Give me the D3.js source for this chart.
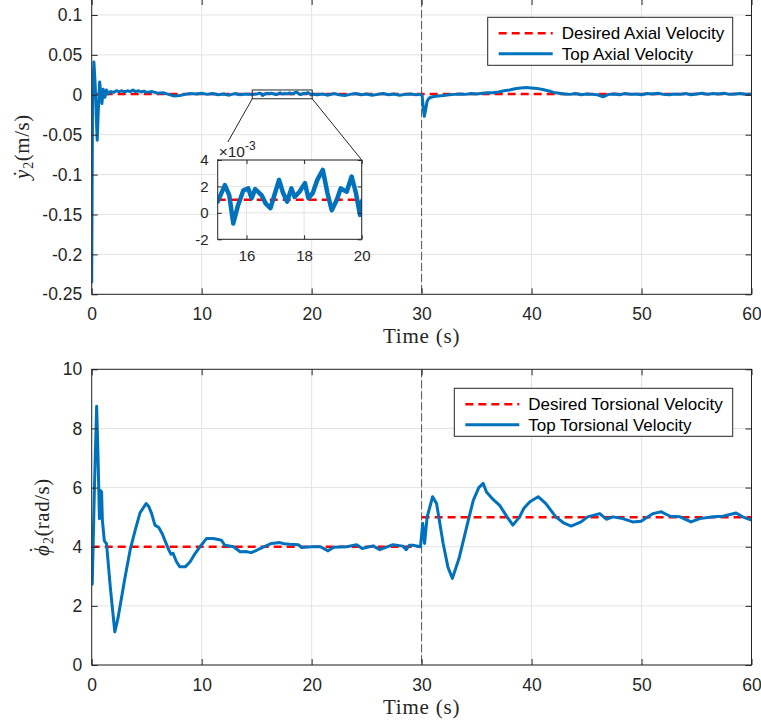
<!DOCTYPE html>
<html>
<head>
<meta charset="utf-8">
<script src="https://cdn.jsdelivr.net/npm/d3@7"></script>
<style>
  body { margin: 0; background: #fff; }
</style>
</head>
<body>
<div id="chart"></div>
<script>
// ---- data ----
var axialT = [0, 0.08, 0.2, 0.32, 0.42, 0.5, 0.6, 0.72, 0.82, 0.93, 1.05, 1.2, 1.35, 1.5, 1.7,
  2, 2.25, 2.5, 2.75, 3, 3.25, 3.5, 3.75, 4, 4.25, 4.5, 4.75, 5, 5.5, 6, 6.5, 7, 7.5, 8, 8.5, 9, 9.5,
  10, 10.5, 11, 11.5, 12, 12.5, 13, 13.5, 14, 14.5,
  15, 15.25, 15.4, 15.54, 15.71, 15.89, 16.06, 16.18, 16.3, 16.52, 16.67, 16.83, 17.13, 17.27, 17.41,
  17.56, 17.67, 17.84, 18.03, 18.15, 18.3, 18.46, 18.65, 18.81, 18.96, 19.13, 19.27, 19.48, 19.65,
  19.8, 19.94, 20,
  20.5, 21, 21.5, 22, 22.5, 23, 23.5, 24, 24.5, 25, 25.5, 26, 26.5, 27, 27.5, 28, 28.5, 29, 29.5, 29.9,
  30.05, 30.15, 30.25, 30.35, 30.5, 30.7, 31, 31.5, 32, 32.5, 33, 33.5, 34, 34.5, 35, 35.5, 36, 36.5,
  37, 37.5, 38, 38.5, 39, 39.5, 40, 40.5, 41, 41.5, 42, 42.5, 43, 43.5, 44, 44.5, 45, 45.5, 46, 46.5,
  47, 47.5, 48, 48.5, 49, 49.5, 50, 50.5, 51, 51.5, 52, 52.5, 53, 53.5, 54, 54.5, 55, 55.5, 56, 56.5,
  57, 57.5, 58, 58.5, 59, 59.5, 60];
var axialV = [-0.236, -0.002, 0.041, 0.012, -0.03, -0.057, -0.02, 0.016, 0.004, -0.011, 0.007, -0.003, 0.006, 0.001, 0.004,
  0.003, 0.005, 0.004, 0.005, 0.0035, 0.005, 0.004, 0.006, 0.004, 0.005, 0.0035, 0.0045, 0.003, 0.004, 0.002, 0.0025, 0.0005, -0.0015, -0.001, 0.0005, 0.0015, 0.001,
  0.002, 0.0005, 0.0015, 0, 0.001, -0.0005, 0.0015, 0, 0.001, 0.0005,
  0.00085, 0.0021, 0.00135, -0.0008, 0.0006, 0.0017, 0.00185, 0.0011, 0.0018, 0.00135, 0.0007, 0.00035, 0.0025, 0.0015, 0.00085,
  0.00185, 0.0012, 0.0016, 0.00225, 0.0011, 0.0015, 0.0025, 0.00325, 0.0015, 0.0002, 0.00095, 0.00185, 0.0016, 0.00275,
  0.0015, -0.00015, 0.00085,
  0, 0.001, -0.0005, 0.0015, 0, -0.001, 0.0005, 0.0015, 0, 0.001, -0.0005, 0.0005, 0.0015, 0, 0.001, -0.0005, 0.0005, 0.001, 0, 0.0005,
  -0.001, -0.016, -0.027, -0.02, -0.008, -0.004, -0.0025, -0.0015, -0.001, 0, 0.0005, 0.001, 0.0005, 0.0015, 0.001, 0.002, 0.0025, 0.0025,
  0.0035, 0.005, 0.006, 0.0075, 0.0085, 0.009, 0.0085, 0.008, 0.0065, 0.005, 0.003, 0.002, 0.001, 0.0005, 0.0015, 0, 0.001, 0.0005, 0, -0.0025,
  0.0005, 0.001, 0, 0.0015, 0.0005, 0.001, 0, 0.0015, 0.001, 0.002, 0.0005, 0, 0.001, 0.0005, 0.0015, 0, 0.001, 0.002, 0.0005, 0.0015,
  0.001, 0.002, 0.0005, 0.001, 0.0015, 0.0005, 0.001];
var axialDesired = 0.001;

var torsT = [0, 0.05, 0.25, 0.45, 0.58, 0.7, 0.8, 0.9, 0.97, 1.15, 1.35, 1.7, 2.1, 2.4, 3, 3.5, 3.95, 4.4, 4.95, 5.2,
  5.45, 5.75, 6.1, 6.4, 6.65, 7, 7.2, 7.4, 7.7, 8, 8.5, 8.95, 9.4, 9.85, 10.45, 11.05, 11.4, 11.8, 12.1, 12.9,
  13.5, 14, 14.5, 15, 15.45, 16.36, 17.1, 17.5, 18, 18.8, 19.1, 20, 20.8, 21.5, 22, 23.2, 24.1, 24.6, 25.6, 26.2,
  27.4, 28.3, 28.6, 28.9, 29.2, 29.9, 30.1, 30.27, 30.5, 31, 31.36, 31.96, 32.4, 32.8, 33.4, 34.1, 34.7, 35.2, 35.6, 35.9,
  36.5, 37.1, 37.7, 38.3, 38.9, 39.3, 39.85, 40.6, 41.3, 42.2, 42.9, 43.6, 44.5, 45.1, 46.2, 46.8, 47.4, 48.3, 49.2, 49.96,
  51.05, 51.8, 52.6, 53.5, 54.5, 55.3, 56.5, 57.4, 58.6, 59.2, 60];
var torsV = [2.7, 2.75, 6.0, 8.75, 7.0, 4.95, 5.9, 5.85, 4.9, 4.2, 4.1, 2.6, 1.12, 1.6, 2.9, 3.9, 4.55, 5.15, 5.46, 5.35,
  5.12, 4.73, 4.65, 4.45, 4.22, 3.9, 3.75, 3.78, 3.5, 3.32, 3.32, 3.49, 3.77, 4.0, 4.28, 4.28, 4.25, 4.22, 4.05, 4.0,
  3.83, 3.84, 3.8, 3.88, 3.96, 4.11, 4.14, 4.1, 4.08, 4.07, 3.97, 4.0, 4.0, 3.86, 3.98, 4.0, 4.07, 3.94, 4.03, 3.9,
  4.07, 4.02, 3.9, 4.05, 4.05, 4.0, 4.79, 4.11, 5.0, 5.69, 5.46, 4.11, 3.3, 2.93, 3.6, 4.67, 5.57, 6.0, 6.14, 5.85,
  5.6, 5.4, 5.05, 4.73, 5.0, 5.3, 5.52, 5.69, 5.46, 5.01, 4.81, 4.7, 4.84, 5.01, 5.12, 4.93, 5.01, 4.95, 4.84, 4.86,
  5.12, 5.18, 5.03, 5.01, 4.84, 4.95, 5.01, 5.03, 5.14, 5.01, 4.9];
var torsDesiredT = [[0, 30], [30, 60]];
var torsDesiredV = [4, 5];

var switchTime = 30;
var xTicks = [0, 10, 20, 30, 40, 50, 60];
var axialTicks = [-0.25, -0.2, -0.15, -0.1, -0.05, 0, 0.05, 0.1];
var axialTickLabels = ["-0.25", "-0.2", "-0.15", "-0.1", "-0.05", "0", "0.05", "0.1"];
var torsTicks = [0, 2, 4, 6, 8, 10];
var insetXTicks = [16, 18, 20];
var insetYTicks = [-0.002, 0, 0.002, 0.004];
var insetYTickLabels = ["-2", "0", "2", "4"];
var zoomT = [14.6, 20.05];
var zoomV = [-0.005, 0.006];

// ---- drawing ----
var W = 761, H = 725;
var axisColor = "#262626", gridColor = "#e3e3e3", blue = "#0072BD", red = "#FF0000";
var sans = "'Liberation Sans', Arial, Helvetica, sans-serif";
var serif = "'Liberation Serif', 'Times New Roman', serif";

var svg = d3.select("#chart").append("svg").attr("width", W).attr("height", H)
  .style("font-family", sans);

var left = 91.7, right = 751.5;
var x = d3.scaleLinear().domain([0, 60]).range([left, right]);

var axialData = axialT.map(function(t, i) { return [t, axialV[i]]; });
var torsData = torsT.map(function(t, i) { return [t, torsV[i]]; });

function drawPanel(p) {
  var y = d3.scaleLinear().domain(p.yDomain).range([p.bottom, p.top]);
  var g = svg.append("g");

  g.append("rect").attr("x", left).attr("y", p.top).attr("width", right - left).attr("height", p.bottom - p.top)
    .attr("fill", "#fff");

  // grid
  g.selectAll(".gx").data(xTicks).enter().append("line")
    .attr("x1", function(d) { return x(d); }).attr("x2", function(d) { return x(d); })
    .attr("y1", p.top).attr("y2", p.bottom)
    .attr("stroke", gridColor).attr("stroke-width", 1);
  g.selectAll(".gy").data(p.yTicks).enter().append("line")
    .attr("x1", left).attr("x2", right)
    .attr("y1", function(d) { return y(d); }).attr("y2", function(d) { return y(d); })
    .attr("stroke", gridColor).attr("stroke-width", 1);

  var clipId = "clip" + p.id;
  svg.append("clipPath").attr("id", clipId).append("rect")
    .attr("x", left).attr("y", p.top).attr("width", right - left).attr("height", p.bottom - p.top);
  var plot = g.append("g").attr("clip-path", "url(#" + clipId + ")");

  // switch marker
  plot.append("line")
    .attr("x1", x(switchTime)).attr("x2", x(switchTime)).attr("y1", p.top).attr("y2", p.bottom)
    .attr("stroke", "#555").attr("stroke-width", 1).attr("stroke-dasharray", "8,3");

  // desired (red dashed)
  p.desired.forEach(function(seg) {
    plot.append("path")
      .datum(seg)
      .attr("d", d3.line().x(function(d) { return x(d[0]); }).y(function(d) { return y(d[1]); }))
      .attr("fill", "none").attr("stroke", red).attr("stroke-width", 2.5).attr("stroke-dasharray", "8,5");
  });

  // measured (blue)
  plot.append("path")
    .datum(p.data)
    .attr("d", d3.line().x(function(d) { return x(d[0]); }).y(function(d) { return y(d[1]); }))
    .attr("fill", "none").attr("stroke", blue).attr("stroke-width", 3).attr("stroke-linejoin", "round");

  // axes
  g.append("g").attr("transform", "translate(0," + p.bottom + ")")
    .call(d3.axisBottom(x).tickValues(xTicks).tickFormat(d3.format("d")).tickSizeInner(-6).tickSizeOuter(0).tickPadding(13.5));
  g.append("g").attr("transform", "translate(0," + p.top + ")")
    .call(d3.axisTop(x).tickValues(xTicks).tickFormat("").tickSizeInner(-6).tickSizeOuter(0));
  g.append("g").attr("transform", "translate(" + left + ",0)")
    .call(d3.axisLeft(y).tickValues(p.yTicks).tickFormat(function(d, i) { return p.yLabels[i]; })
      .tickSizeInner(-6).tickSizeOuter(0).tickPadding(9.5));
  g.append("g").attr("transform", "translate(" + right + ",0)")
    .call(d3.axisRight(y).tickValues(p.yTicks).tickFormat("").tickSizeInner(-6).tickSizeOuter(0));
  g.selectAll(".domain").remove();
  g.selectAll(".tick line").attr("stroke", axisColor);
  g.selectAll(".tick text").attr("fill", axisColor).style("font-size", "17.5px").style("font-family", sans);

  g.append("rect").attr("x", left).attr("y", p.top).attr("width", right - left).attr("height", p.bottom - p.top)
    .attr("fill", "none").attr("stroke", axisColor).attr("stroke-width", 1);

  // x label
  g.append("text").attr("x", (left + right) / 2).attr("y", p.bottom + 49)
    .attr("text-anchor", "middle").style("font-family", serif).style("font-size", "21px")
    .style("letter-spacing", "0.8px").attr("fill", axisColor).text("Time (s)");

  // y label: symbol, dot accent, subscript, unit
  var yl = g.append("text")
    .attr("transform", "translate(" + p.ylabelX + "," + (p.top + p.bottom) / 2 + ") rotate(-90)")
    .attr("text-anchor", "middle").style("font-family", serif).style("font-size", "21px")
    .style("letter-spacing", "0.5px").attr("fill", axisColor);
  yl.append("tspan").style("font-style", "italic").text(p.ylabelSym);
  yl.append("tspan").attr("dx", p.dotDx).attr("dy", p.dotDy).text("\u02d9");
  yl.append("tspan").style("font-size", "14px").attr("dx", p.subDx).attr("dy", 4 - p.dotDy).text("2");
  yl.append("tspan").attr("dy", -4).text(p.ylabelUnit);

  // legend
  var lg = g.append("g");
  lg.append("rect").attr("x", p.legend.x).attr("y", p.legend.y).attr("width", p.legend.w).attr("height", 48)
    .attr("fill", "#fff").attr("stroke", axisColor).attr("stroke-width", 1);
  var rows = [
    { label: p.legendNames[0], color: red, dash: "8,5", w: 2.5 },
    { label: p.legendNames[1], color: blue, dash: null, w: 3 }
  ];
  rows.forEach(function(r, i) {
    var cy = p.legend.y + 16 + i * 20.5;
    lg.append("line").attr("x1", p.legend.x + 11).attr("x2", p.legend.x + 65)
      .attr("y1", cy).attr("y2", cy)
      .attr("stroke", r.color).attr("stroke-width", r.w).attr("stroke-dasharray", r.dash);
    lg.append("text").attr("x", p.legend.x + 74).attr("y", cy + 6)
      .style("font-size", "17px").attr("fill", "#000").text(r.label);
  });

  return y;
}

var yTop = drawPanel({
  id: "a", top: -1, bottom: 294.3, yDomain: [-0.25, 0.12],
  yTicks: axialTicks, yLabels: axialTickLabels, data: axialData,
  desired: [[[0, axialDesired], [60, axialDesired]]],
  ylabelX: 29, ylabelSym: "y", dotDx: -8, dotDy: -1, subDx: 1, ylabelUnit: "(m/s)",
  legend: { x: 487.7, y: 17.3, w: 245 },
  legendNames: ["Desired Axial Velocity", "Top Axial Velocity"]
});

drawPanel({
  id: "b", top: 369.3, bottom: 665, yDomain: [0, 10],
  yTicks: torsTicks, yLabels: torsTicks.map(String), data: torsData,
  desired: torsDesiredT.map(function(seg, i) { return [[seg[0], torsDesiredV[i]], [seg[1], torsDesiredV[i]]]; }),
  ylabelX: 49, ylabelSym: "\u03d5", dotDx: -9, dotDy: -5, subDx: 2, ylabelUnit: "(rad/s)",
  legend: { x: 454.3, y: 388.3, w: 278.4 },
  legendNames: ["Desired Torsional Velocity", "Top Torsional Velocity"]
});

// ---- zoom box + inset ----
var inL = 217.7, inR = 361.7, inT = 160, inB = 239.3;
var ix = d3.scaleLinear().domain([15, 20]).range([inL, inR]);
var iy = d3.scaleLinear().domain([-0.002, 0.004]).range([inB, inT]);

var zx0 = x(zoomT[0]), zx1 = x(zoomT[1]), zy0 = yTop(zoomV[1]), zy1 = yTop(zoomV[0]);
svg.append("rect").attr("x", zx0).attr("y", zy0).attr("width", zx1 - zx0).attr("height", zy1 - zy0)
  .attr("fill", "none").attr("stroke", axisColor).attr("stroke-width", 1);
svg.append("line").attr("x1", zx0).attr("y1", zy1).attr("x2", inL).attr("y2", inT)
  .attr("stroke", axisColor).attr("stroke-width", 1);
svg.append("line").attr("x1", zx1).attr("y1", zy1).attr("x2", inR).attr("y2", inT)
  .attr("stroke", axisColor).attr("stroke-width", 1);

var ig = svg.append("g");
ig.append("rect").attr("x", inL).attr("y", inT).attr("width", inR - inL).attr("height", inB - inT).attr("fill", "#fff");
ig.selectAll(".igx").data(insetXTicks).enter().append("line")
  .attr("x1", function(d) { return ix(d); }).attr("x2", function(d) { return ix(d); })
  .attr("y1", inT).attr("y2", inB).attr("stroke", gridColor);
ig.selectAll(".igy").data(insetYTicks).enter().append("line")
  .attr("x1", inL).attr("x2", inR)
  .attr("y1", function(d) { return iy(d); }).attr("y2", function(d) { return iy(d); }).attr("stroke", gridColor);

svg.append("clipPath").attr("id", "clipInset").append("rect")
  .attr("x", inL).attr("y", inT).attr("width", inR - inL).attr("height", inB - inT);
var ip = ig.append("g").attr("clip-path", "url(#clipInset)");
ip.append("path").datum([[15, axialDesired], [20, axialDesired]])
  .attr("d", d3.line().x(function(d) { return ix(d[0]); }).y(function(d) { return iy(d[1]); }))
  .attr("fill", "none").attr("stroke", red).attr("stroke-width", 2.5).attr("stroke-dasharray", "8,5");
ip.append("path").datum(axialData.filter(function(d) { return d[0] >= 14.5 && d[0] <= 20.5; }))
  .attr("d", d3.line().x(function(d) { return ix(d[0]); }).y(function(d) { return iy(d[1]); }))
  .attr("fill", "none").attr("stroke", blue).attr("stroke-width", 4.5).attr("stroke-linejoin", "round");

ig.append("g").attr("transform", "translate(0," + inB + ")")
  .call(d3.axisBottom(ix).tickValues(insetXTicks).tickFormat(d3.format("d")).tickSizeInner(-4).tickSizeOuter(0).tickPadding(11.5));
ig.append("g").attr("transform", "translate(" + inL + ",0)")
  .call(d3.axisLeft(iy).tickValues(insetYTicks).tickFormat(function(d, i) { return insetYTickLabels[i]; })
    .tickSizeInner(-4).tickSizeOuter(0).tickPadding(9));
ig.append("g").attr("transform", "translate(0," + inT + ")")
  .call(d3.axisTop(ix).tickValues(insetXTicks).tickFormat("").tickSizeInner(-4).tickSizeOuter(0));
ig.append("g").attr("transform", "translate(" + inR + ",0)")
  .call(d3.axisRight(iy).tickValues(insetYTicks).tickFormat("").tickSizeInner(-4).tickSizeOuter(0));
ig.selectAll(".domain").remove();
ig.selectAll(".tick line").attr("stroke", axisColor);
ig.selectAll(".tick text").attr("fill", axisColor).style("font-size", "15px").style("font-family", sans);
ig.append("rect").attr("x", inL).attr("y", inT).attr("width", inR - inL).attr("height", inB - inT)
  .attr("fill", "none").attr("stroke", axisColor).attr("stroke-width", 1);

// exponent label (its white box hides the connector)
ig.append("rect").attr("x", inL).attr("y", inT - 18).attr("width", 46).attr("height", 17).attr("fill", "#fff");
var ex = ig.append("text").attr("x", inL + 1).attr("y", inT - 3.5).attr("fill", axisColor).style("font-size", "15.5px");
ex.append("tspan").text("\u00d710");
ex.append("tspan").attr("dy", -7).style("font-size", "12px").text("-3");
</script>
</body>
</html>
